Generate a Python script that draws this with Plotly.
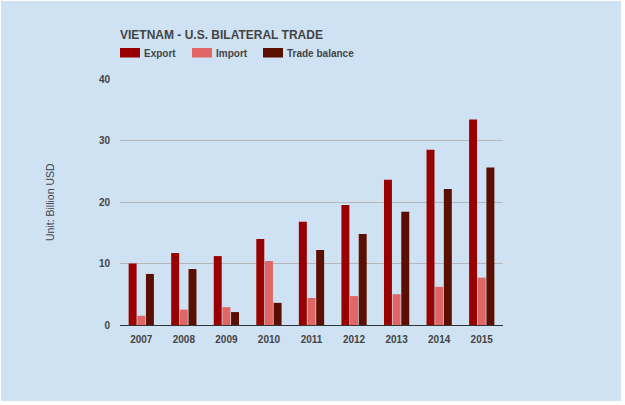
import plotly.graph_objects as go

years = ["2007", "2008", "2009", "2010", "2011", "2012", "2013", "2014", "2015"]
export_vals = [10.0, 11.7, 11.2, 14.0, 16.8, 19.5, 23.6, 28.5, 33.4]
import_vals = [1.5, 2.5, 2.9, 10.4, 4.4, 4.7, 5.0, 6.2, 7.7]
balance_vals = [8.3, 9.1, 2.1, 3.6, 12.2, 14.8, 18.4, 22.1, 25.6]

series_names = ["Export", "Import", "Trade balance"]
series_colors = ["#990000", "#E06666", "#5B0F00"]
y_ticks = [0, 10, 20, 30, 40]

W, H = 625, 405
L, R, T, B = 120, 122, 79, 80
pw, ph = W - L - R, H - T - B

def px_x(p):
    return (p - L) / pw

def px_y(p):
    return (H - B - p) / ph

font_main = "Arial, Liberation Sans, sans-serif"
fig = go.Figure()
for name, vals, col in zip(series_names, [export_vals, import_vals, balance_vals], series_colors):
    fig.add_trace(go.Bar(x=years, y=vals, name=name, marker=dict(color=col, line=dict(width=0)),
                         showlegend=False))

shapes = [dict(type="rect", xref="paper", yref="paper", layer="below",
               x0=px_x(1), x1=px_x(621), y0=px_y(401), y1=px_y(1),
               fillcolor="#CFE2F3", line=dict(width=0))]
annotations = []
leg_x = [120, 192, 263]
for name, col, x0 in zip(series_names, series_colors, leg_x):
    shapes.append(dict(type="rect", xref="paper", yref="paper",
                       x0=px_x(x0), x1=px_x(x0 + 20), y0=px_y(57.5), y1=px_y(48),
                       fillcolor=col, line=dict(width=0)))
    annotations.append(dict(text=name, xref="paper", yref="paper", x=px_x(x0 + 22), y=px_y(53),
                            xanchor="left", yanchor="middle", showarrow=False,
                            font=dict(family=font_main, size=10, color="#444444", weight="bold")))
annotations.append(dict(text="Unit: Billion USD", xref="paper", yref="paper", x=px_x(50), y=px_y(202),
                        xanchor="center", yanchor="middle", showarrow=False, textangle=-90,
                        font=dict(family=font_main, size=10.5, color="#444444")))
annotations.append(dict(text="VIETNAM - U.S. BILATERAL TRADE", xref="paper", yref="paper",
                        x=px_x(118), y=px_y(35), xanchor="left", yanchor="middle", showarrow=False,
                        font=dict(family=font_main, size=12, color="#444444", weight="bold")))

fig.update_layout(
    width=W, height=H,
    margin=dict(l=L, r=R, t=T, b=B, autoexpand=False),
    paper_bgcolor="white",
    plot_bgcolor="rgba(0,0,0,0)",
    barmode="group", bargap=0.39, bargroupgap=0.08,
    shapes=shapes, annotations=annotations,
    showlegend=False,
)
fig.update_xaxes(showgrid=False, showline=True, linecolor="#333333", linewidth=1,
                 ticks="", tickfont=dict(family=font_main, size=10, color="#444444", weight="bold"),
                 ticklabelstandoff=5)
fig.update_yaxes(range=[0, 40], tickvals=y_ticks, showgrid=True, gridcolor="#B7B7B7", gridwidth=1,
                 zeroline=False, showline=False, ticks="",
                 tickfont=dict(family=font_main, size=10, color="#444444", weight="bold"),
                 ticklabelstandoff=9)

fig.write_html("out.html")
